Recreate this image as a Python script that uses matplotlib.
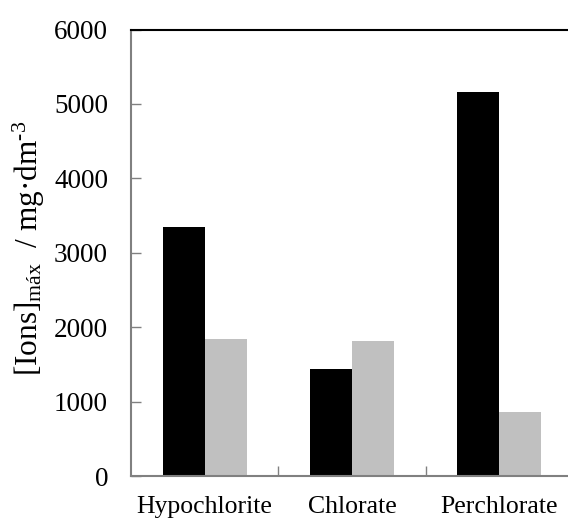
import matplotlib
matplotlib.use("Agg")
import matplotlib.pyplot as plt
import numpy as np

categories = ["Hypochlorite", "Chlorate", "Perchlorate"]
series_black = [3340, 1442, 5160]
series_gray = [1841, 1814, 856]
yticks = [0, 1000, 2000, 3000, 4000, 5000, 6000]

plt.rcParams['font.family'] = ['Liberation Serif', 'DejaVu Serif']
plt.rcParams['mathtext.fontset'] = 'custom'
plt.rcParams['mathtext.rm'] = 'Liberation Serif'
plt.rcParams['mathtext.it'] = 'Liberation Serif:italic'

W, H = 568, 522
fig = plt.figure(figsize=(W / 100, H / 100), dpi=100)
ax = fig.add_axes([131 / W, (H - 476) / H, (573 - 131) / W, (476 - 29.5) / H])

x = np.arange(len(categories))
bw = 0.285
ax.bar(x - bw / 2, series_black, width=bw, color='black', zorder=2)
ax.bar(x + bw / 2, series_gray, width=bw, color='#c0c0c0', zorder=2)

ax.set_xlim(-0.5, len(categories) - 0.5)
ax.set_ylim(0, 6000)
ax.set_yticks(yticks)
ax.set_yticklabels([str(v) for v in yticks], fontsize=19.5)
ax.set_xticks(x)
ax.set_xticklabels(categories, fontsize=18.5)
ax.tick_params(axis='x', which='major', length=0, pad=14.5)
ax.set_xticks(np.arange(len(categories) - 1) + 0.5, minor=True)
ax.tick_params(axis='x', which='minor', direction='in', length=7, color='#808080', width=1)
ax.tick_params(axis='y', which='major', direction='in', length=7, color='#808080', width=1, pad=16.5)

for s in ['left', 'bottom']:
    ax.spines[s].set_color('#808080')
    ax.spines[s].set_linewidth(1.5)
ax.spines['top'].set_color('black')
ax.spines['top'].set_linewidth(1.5)
ax.spines['right'].set_visible(False)

ax.set_ylabel('[Ions]$_{\\mathrm{máx}}$  / mg·dm$^{\\mathrm{\u20103}}$', fontsize=22.5)
ax.yaxis.set_label_coords(-0.19, 0.51)

fig.savefig('out.png', dpi=100)
